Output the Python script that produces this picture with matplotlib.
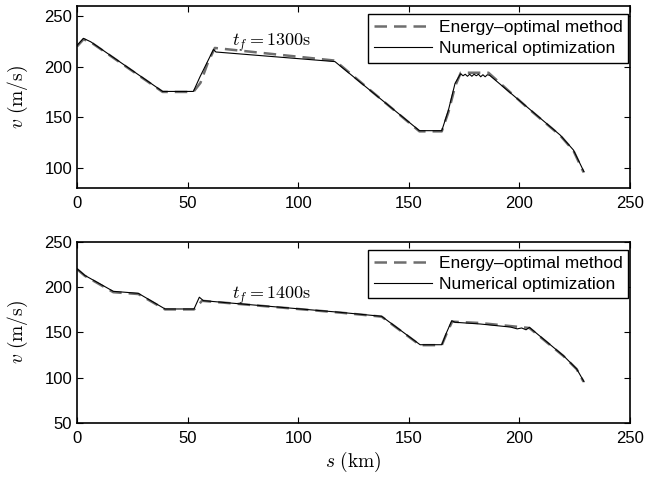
import matplotlib
matplotlib.use("Agg")
import matplotlib.pyplot as plt

plt.rcParams["font.family"] = ["Liberation Sans", "DejaVu Sans"]
plt.rcParams["mathtext.fontset"] = "cm"

# tf = 1300 s
s_eo_1300 = [0, 2.9, 6.0, 38.7, 52.6, 55.8, 59.0, 62.3, 116.6, 154.8, 164.9,
             167.9, 171.0, 173.5, 186.0, 203.3, 218.4, 224.4, 229.0]
v_eo_1300 = [220, 227, 224.5, 175, 175, 184, 203, 218.5, 206, 136, 136,
             155, 181, 194, 194, 160, 132, 117, 95.5]

s_num_1300 = [0, 2.9, 6.2, 38.7, 52.6, 55.6, 61.7, 62.8, 116.6, 154.8, 164.9,
              167.9, 170.9, 173.4, 174.5, 175.5, 176.5, 177.5, 178.5, 179.5,
              180.5, 181.5, 182.5, 183.5, 184.5, 185.5, 186.5, 203.3, 218.4,
              224.4, 229.2]
v_num_1300 = [221, 228, 224.6, 175.5, 175.5, 190, 217, 214.5, 205, 136.7, 136.7,
              157, 183.5, 193, 191, 192.5, 190.5, 192.5, 190.5, 192.5,
              191, 192.5, 190, 192, 190, 192, 191.5, 160.4, 132.4,
              117.6, 96]

# tf = 1400 s
s_eo_1400 = [0, 3.6, 16.4, 27.7, 39.8, 52.9, 55.0, 56.5, 118.9, 137.7, 155.1,
             164.9, 167.3, 169.6, 182.2, 204.5, 219.9, 225.9, 229.0]
v_eo_1400 = [220, 212.5, 194.5, 192.5, 175.5, 175.5, 181, 185, 172, 167.5, 136,
             136, 150, 162, 160.5, 155, 124, 109.5, 95.5]

s_num_1400 = [0, 3.6, 16.4, 27.7, 39.8, 52.9, 55.3, 57.1, 69.2, 118.9, 137.7,
              155.1, 164.9, 167.1, 169.4, 170.9, 182.2, 196.0, 199.0, 201.0,
              203.0, 204.5, 219.9, 225.9, 229.2]
v_num_1400 = [220.5, 213, 195.5, 193.3, 176, 176, 189, 185.2, 182.6, 172.3, 167.9,
              136.5, 136.5, 150.2, 163, 161.3, 159.4, 156, 154, 155, 153,
              155.7, 124.4, 109.7, 95.6]

panels = [
    (s_eo_1300, v_eo_1300, s_num_1300, v_num_1300, (80, 260), [100, 150, 200, 250],
     r"$t_f = 1300\mathrm{s}$", (70, 224)),
    (s_eo_1400, v_eo_1400, s_num_1400, v_num_1400, (50, 250), [50, 100, 150, 200, 250],
     r"$t_f = 1400\mathrm{s}$", (70, 191)),
]

fig = plt.figure(figsize=(6.56, 4.79), dpi=100)
rects = [[0.1174, 0.6075, 0.843, 0.3800], [0.1174, 0.1169, 0.843, 0.3779]]

for rect, (s_eo, v_eo, s_num, v_num, ylim, yticks, note, note_xy) in zip(rects, panels):
    ax = fig.add_axes(rect)
    ax.plot(s_eo, v_eo, color="#6e6e6e", linewidth=1.8, dashes=(5, 2.8),
            label="Energy\u2013optimal method")
    ax.plot(s_num, v_num, color="black", linewidth=0.8, label="Numerical optimization")
    ax.set_xlim(0, 250)
    ax.set_ylim(*ylim)
    ax.set_xticks([0, 50, 100, 150, 200, 250])
    ax.set_yticks(yticks)
    ax.tick_params(direction="in", top=True, right=True, length=4, width=0.8, labelsize=12)
    ax.tick_params(axis="x", pad=6)
    for sp in ax.spines.values():
        sp.set_linewidth(1.2)
    ax.set_ylabel(r"$v\ (\mathrm{m/s})$", fontsize=14)
    ax.yaxis.set_label_coords(-0.085, 0.5)
    ax.text(note_xy[0], note_xy[1], note, fontsize=13, va="center", ha="left")
    leg = ax.legend(loc="upper right", bbox_to_anchor=(0.997, 0.956), fontsize=12.5,
                    fancybox=False, edgecolor="black", framealpha=1, handlelength=3.3,
                    handletextpad=0.4, borderpad=0.35, labelspacing=0.35, borderaxespad=0)
    leg.get_frame().set_linewidth(1.0)

ax.set_xlabel(r"$s\ (\mathrm{km})$", fontsize=14)
ax.xaxis.set_label_coords(0.5, -0.15)

fig.savefig("out.png", dpi=100)
